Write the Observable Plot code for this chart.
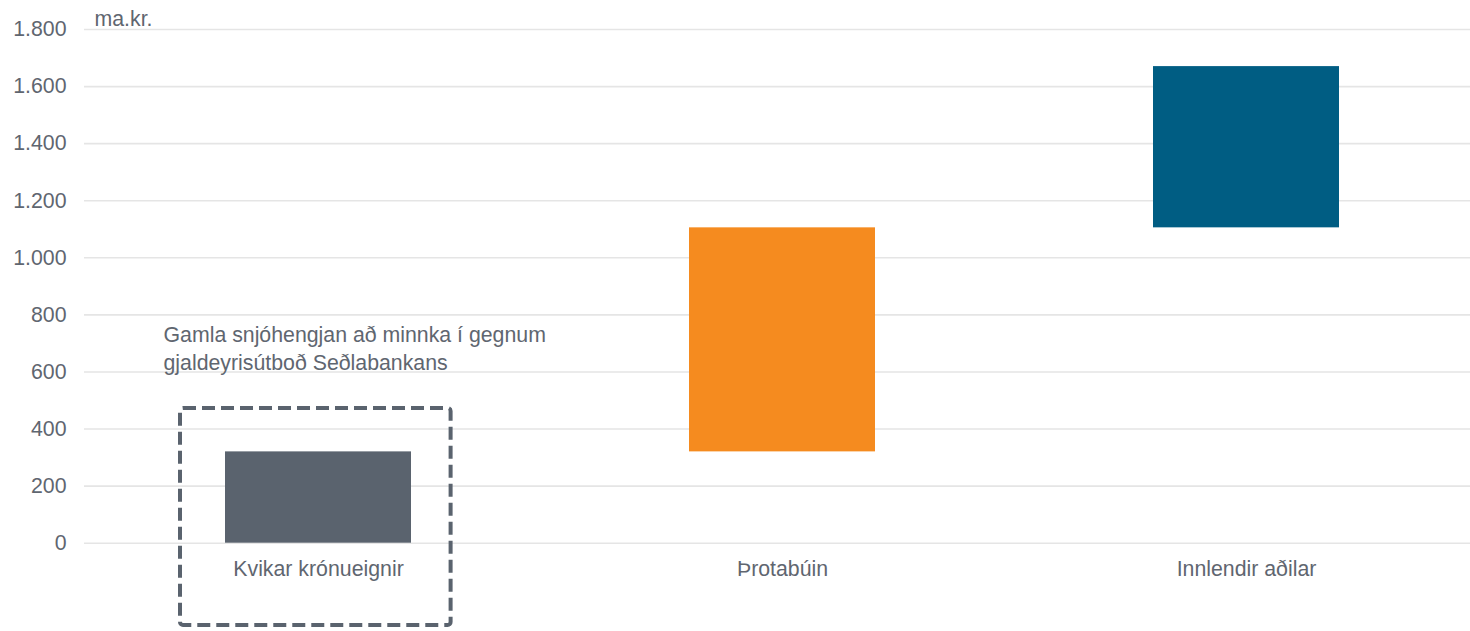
<!DOCTYPE html>
<html>
<head>
<meta charset="utf-8">
<script src="https://cdn.jsdelivr.net/npm/d3@7"></script>
<script src="https://cdn.jsdelivr.net/npm/@observablehq/plot@0.6"></script>
<style>
  html, body { margin: 0; padding: 0; background: #fff; }
  #chart { width: 1470px; height: 631px; }
</style>
</head>
<body>
<div id="chart"></div>
<script>
// Data
const categories = ["Kvikar krónueignir", "Þrotabúin", "Innlendir aðilar"];
const increments = [320, 785, 565];
const colors = ["#5a636e", "#f58b1f", "#005d83"];
const yTicks = [0, 200, 400, 600, 800, 1000, 1200, 1400, 1600, 1800];
const unitLabel = "ma.kr.";
const noteText = "Gamla snjóhengjan að minnka í gegnum\ngjaldeyrisútboð Seðlabankans";

const ends = d3.cumsum(increments);
const rows = categories.map((c, i) => ({
  cat: c,
  start: ends[i] - increments[i],
  end: ends[i],
  color: colors[i]
}));

const fmt = d3.formatLocale({decimal: ",", thousands: ".", grouping: [3], currency: ["", ""]}).format(",");
const textColor = "#5f6670";
const fs = 21.3;

const chart = Plot.plot({
  width: 1470,
  height: 631,
  marginTop: 29,
  marginBottom: 88.3,
  marginLeft: 84,
  marginRight: 0,
  style: {fontFamily: "'Liberation Sans', Arial, sans-serif", fontSize: fs + "px", color: textColor, background: "#fff"},
  x: {domain: categories, range: [85, 1478.5], paddingInner: 0.6, paddingOuter: 0.3, label: null},
  y: {domain: [0, 1800], label: null},
  marks: [
    Plot.ruleY(yTicks, {stroke: "#e5e5e5", strokeWidth: 1.6}),
    Plot.axisY(yTicks, {tickSize: 0, tickPadding: 18, tickFormat: fmt, fill: textColor, fontSize: fs, label: null}),
    Plot.axisX({tickSize: 0, tickPadding: 18, fill: textColor, fontSize: fs, label: null}),
    Plot.barY(rows, {x: "cat", y1: "start", y2: "end", fill: "color"}),
    // dashed highlight box around the first category
    Plot.barY([categories[0]], {
      x: d => d, y1: -288, y2: 472,
      fill: "none", stroke: "#5a636e", strokeWidth: 4, strokeDasharray: "13,6",
      insetLeft: -45, insetRight: -39.6, rx: 3
    }),
    Plot.text([noteText], {
      x: () => categories[0], y: () => 686, dx: -155,
      textAnchor: "start", lineAnchor: "middle", lineHeight: 1.31,
      fill: textColor, fontSize: fs
    }),
    Plot.text([unitLabel], {
      frameAnchor: "top-left", dx: 10, dy: -10, textAnchor: "start", lineAnchor: "middle",
      fill: textColor, fontSize: fs
    })
  ]
});
document.getElementById("chart").appendChild(chart);
</script>
</body>
</html>
